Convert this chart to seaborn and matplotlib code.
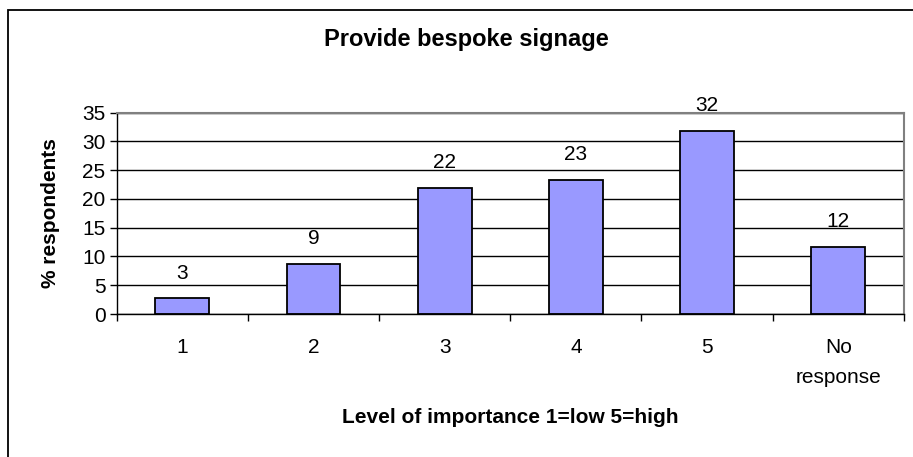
import matplotlib
matplotlib.use("Agg")
import matplotlib.pyplot as plt
import seaborn as sns
import pandas as pd
from matplotlib.patches import Rectangle
from matplotlib.ticker import FixedLocator

# 数据
categories = ["1", "2", "3", "4", "5", "No\nresponse"]
percent = [2.7, 8.7, 21.9, 23.3, 31.9, 11.6]
value_labels = ["3", "9", "22", "23", "32", "12"]
y_ticks = [0, 5, 10, 15, 20, 25, 30, 35]

sns.set_theme(style="white")
plt.rcParams['font.family'] = ['Liberation Sans', 'DejaVu Sans']
plt.rcParams['text.color'] = 'black'
plt.rcParams['xtick.color'] = 'black'
plt.rcParams['ytick.color'] = 'black'

df = pd.DataFrame({"cat": categories, "pct": percent})

fig = plt.figure(figsize=(9.13, 4.57), dpi=100)
ax = fig.add_axes([0.1278, 0.3129, 0.990 - 0.1278, 0.7534 - 0.3129])

sns.barplot(data=df, x="cat", y="pct", order=categories, color="#9999FF",
            saturation=1, width=0.41, edgecolor="black", linewidth=1.3, ax=ax)

# 柱子上的数值
ax.bar_label(ax.containers[0], labels=value_labels, padding=11.5, fontsize=15,
             color="black")

ax.set_ylim(0, 35)
ax.set_xlim(-0.5, 5.5)
ax.set_yticks(y_ticks)
ax.yaxis.grid(True, color="black", linewidth=1)
ax.set_axisbelow(True)

# 轴线
for side in ["top", "right"]:
    ax.spines[side].set_color("#808080")
    ax.spines[side].set_linewidth(1.5)
for side in ["left", "bottom"]:
    ax.spines[side].set_color("black")
    ax.spines[side].set_linewidth(1)

ax.tick_params(axis="y", which="major", direction="out", length=5, width=1,
               color="black", labelsize=15, pad=3, left=True)
ax.tick_params(axis="x", which="major", length=0, labelsize=15, pad=17)
for lbl in ax.get_xticklabels():
    lbl.set_linespacing(1.75)
ax.xaxis.set_minor_locator(FixedLocator([i - 0.5 for i in range(7)]))
ax.tick_params(axis="x", which="minor", direction="out", length=5, width=1,
               color="black", bottom=True)

ax.set_xlabel("")
ax.set_ylabel("")

fig.text(0.055, 0.533, "% respondents", rotation=90, fontsize=15,
         fontweight="bold", ha="center", va="center")
fig.text(0.559, 0.0875, "Level of importance 1=low 5=high", fontsize=15,
         fontweight="bold", ha="center", va="center")
fig.text(0.5104, 0.9125, "Provide bespoke signage", fontsize=17,
         fontweight="bold", ha="center", va="center")

# 外框
fig.patches.append(Rectangle((8 / 913, -0.1), 1.2, 1 - 10 / 457 + 0.1,
                             transform=fig.transFigure, fill=False,
                             edgecolor="black", linewidth=1.3))

fig.savefig("out.png", dpi=100)
